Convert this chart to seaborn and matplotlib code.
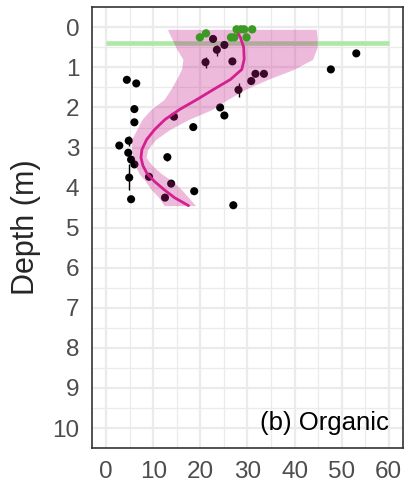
import pandas as pd
import matplotlib.pyplot as plt
import seaborn as sns

# --- data ---
# organic samples (black points) with depth range
org_x = [22.7, 25.1, 23.5, 21.1, 26.8, 31.7, 33.5, 30.8, 28.1, 24.2, 25.1,
         14.4, 18.5, 4.4, 6.4, 6.0, 6.0, 47.7, 53.1, 2.8, 4.8, 4.7, 5.3,
         6.0, 13.0, 4.9, 9.1, 13.8, 18.7, 5.3, 12.5, 27.0]
org_depth = [0.29, 0.44, 0.56, 0.87, 0.85, 1.16, 1.16, 1.34, 1.56, 2.00, 2.20,
             2.23, 2.49, 1.31, 1.40, 2.04, 2.37, 1.05, 0.65, 2.95, 2.83, 3.13,
             3.30, 3.42, 3.24, 3.75, 3.73, 3.90, 4.09, 4.29, 4.25, 4.44]
org_lo = [0.27, 0.42, 0.44, 0.73, 0.82, 1.13, 1.13, 1.31, 1.39, 1.97, 2.17,
          2.20, 2.46, 1.28, 1.37, 2.01, 2.34, 1.01, 0.61, 2.92, 2.72, 3.10,
          3.27, 3.39, 3.15, 3.40, 3.70, 3.87, 4.06, 4.26, 4.22, 4.41]
org_hi = [0.31, 0.46, 0.71, 1.02, 0.88, 1.19, 1.19, 1.37, 1.75, 2.03, 2.23,
          2.26, 2.52, 1.34, 1.43, 2.07, 2.40, 1.09, 0.69, 2.98, 2.96, 3.16,
          3.33, 3.45, 3.34, 4.05, 3.76, 3.93, 4.12, 4.32, 4.28, 4.47]

# surface samples (green points)
surf_x = [19.9, 21.2, 26.5, 27.2, 27.7, 28.6, 29.3, 31.0, 29.8]
surf_depth = [0.25, 0.15, 0.25, 0.25, 0.05, 0.05, 0.05, 0.05, 0.25]

# smoothed profile and its confidence band
fit_depth = [0.05, 0.25, 0.5, 0.8, 1.05, 1.3, 1.55, 1.8, 2.05, 2.3, 2.55,
             2.8, 3.05, 3.25, 3.45, 3.65, 3.85, 4.05, 4.25, 4.45]
fit_x = [27.5, 28.5, 29.2, 29.3, 28.8, 26.4, 22.8, 19.3, 15.6, 12.5, 10.3,
         8.6, 7.6, 7.4, 7.8, 8.7, 10.3, 12.3, 14.5, 17.5]
fit_lo = [13.0, 13.8, 14.8, 16.3, 16.0, 14.9, 13.7, 12.3, 9.5, 7.6, 6.5,
          5.4, 5.4, 5.7, 6.2, 7.0, 8.4, 9.6, 11.2, 12.3]
fit_hi = [44.6, 44.8, 44.8, 43.8, 39.8, 34.3, 29.5, 25.8, 22.5, 17.5, 13.5,
          10.5, 8.8, 8.5, 9.8, 11.7, 14.2, 16.0, 17.5, 19.0]

water_depth = 0.4
water_x = [0, 60]

org = pd.DataFrame({'x': org_x, 'depth': org_depth, 'lo': org_lo, 'hi': org_hi})
surf = pd.DataFrame({'x': surf_x, 'depth': surf_depth})
fit = pd.DataFrame({'depth': fit_depth, 'x': fit_x, 'lo': fit_lo, 'hi': fit_hi})

# --- style ---
sns.set_style("white")
plt.rcParams['font.family'] = ['Liberation Sans', 'DejaVu Sans']

fig = plt.figure(figsize=(4.07, 4.87), dpi=100)
ax = fig.add_axes([0.226, 0.080, 0.764, 0.905])

# grid like theme_bw
for v in range(0, 61, 10):
    ax.axvline(v, color='#ebebeb', lw=1.6, zorder=0)
for v in range(5, 61, 10):
    ax.axvline(v, color='#ebebeb', lw=0.9, zorder=0)
for v in range(0, 11):
    ax.axhline(v, color='#ebebeb', lw=1.6, zorder=0)
    ax.axhline(v + 0.5, color='#ebebeb', lw=0.9, zorder=0)

# water line
ax.plot(water_x, [water_depth, water_depth], color='#abe9a5', lw=3.3, zorder=1,
        solid_capstyle='butt')

# points with error bars
ax.vlines(org['x'], org['lo'], org['hi'], color='black', lw=1.0, zorder=2)
sns.scatterplot(x='x', y='depth', data=org, color='black', s=34,
                edgecolor='none', ax=ax, zorder=2)

# confidence band + fit
ax.fill_betweenx(fit['depth'], fit['lo'], fit['hi'], color='#c51b8a',
                 alpha=0.3, lw=0, zorder=3)
sns.lineplot(x='x', y='depth', data=fit, orient='y', sort=False,
             color='#d4208f', lw=2.0, ax=ax, zorder=4)

sns.scatterplot(x='x', y='depth', data=surf, color='#3a9a22', s=36,
                edgecolor='none', ax=ax, zorder=5)

ax.text(60, 10.05, '(b) Organic', ha='right', va='baseline', fontsize=18.5,
        color='black')

ax.set_xlim(-3, 63)
ax.set_ylim(10.5, -0.5)
ax.set_xticks(range(0, 61, 10))
ax.set_yticks(range(0, 11))
ax.set_xlabel('')
ax.set_ylabel('Depth (m)', fontsize=22, labelpad=8)
ax.tick_params(axis='both', labelsize=17.5, colors='#4d4d4d', length=6, width=1.1,
               direction='out', pad=3)
ax.tick_params(axis='both', color='#333333')
for s in ax.spines.values():
    s.set_color('#333333')
    s.set_linewidth(1.2)
    s.set_zorder(6)

plt.savefig('out.png', dpi=100)
plt.close()
